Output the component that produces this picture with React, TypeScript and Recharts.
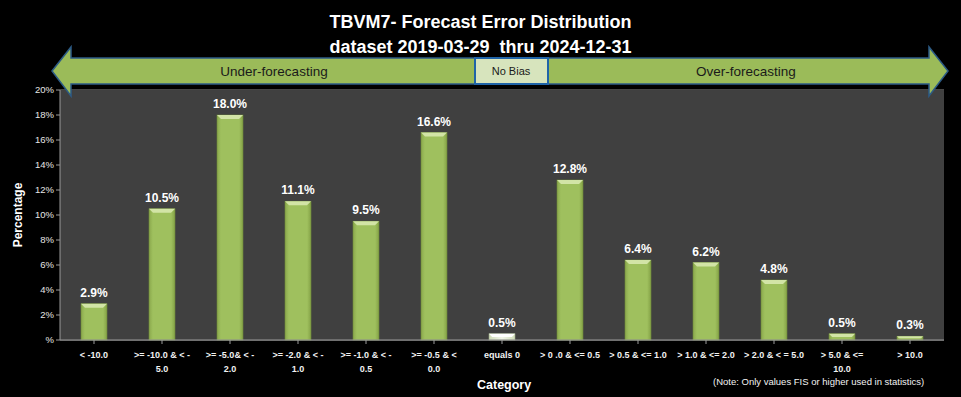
import React from "react";
import { BarChart, Bar, XAxis, YAxis, CartesianGrid, Cell, LabelList } from "recharts";

const categories = [
  "< -10.0",
  ">= -10.0 & < -\n5.0",
  ">= -5.0& < -\n2.0",
  ">= -2.0 & < -\n1.0",
  ">= -1.0 & < -\n0.5",
  ">= -0.5 & <\n0.0",
  "equals 0",
  "> 0 .0 & <= 0.5",
  "> 0.5 & <= 1.0",
  "> 1.0 & <= 2.0",
  "> 2.0 & < = 5.0",
  "> 5.0 & <=\n10.0",
  "> 10.0",
];
const percentages = [2.9, 10.5, 18.0, 11.1, 9.5, 16.6, 0.5, 12.8, 6.4, 6.2, 4.8, 0.5, 0.3];
const yTicks = [0, 2, 4, 6, 8, 10, 12, 14, 16, 18, 20];
const noBiasCategory = "equals 0";

const data = categories.map((c, i) => ({ category: c, value: percentages[i] }));

const FONT = "'Liberation Sans', Arial, sans-serif";

function CategoryTick({ x, y, payload }: any) {
  const lines = String(payload.value).split("\n");
  return (
    <text x={x} y={y + 12} textAnchor="middle" fill="#f2f2f2" fontSize={9} fontWeight="bold" fontFamily={FONT}>
      {lines.map((l, i) => (
        <tspan key={i} x={x} dy={i === 0 ? 0 : 14}>{l}</tspan>
      ))}
    </text>
  );
}

function BevelBar({ x, y, width, height, payload }: any) {
  if (!height || height <= 0) return null;
  const pale = payload.category === noBiasCategory;
  const fillId = pale ? "url(#paleGrad)" : "url(#greenGrad)";
  const bevel = Math.min(4, height / 2);
  return (
    <g>
      <rect x={x} y={y} width={width} height={height} fill={fillId} stroke={pale ? "#9aa886" : "#6f8a3a"} strokeWidth={0.6} />
      <polygon
        points={`${x},${y} ${x + width},${y} ${x + width - bevel},${y + bevel} ${x + bevel},${y + bevel}`}
        fill={pale ? "#ffffff" : "#d2e4a6"}
      />
    </g>
  );
}

function Arrows() {
  const mid = 71;
  return (
    <svg width={961} height={397} style={{ position: "absolute", left: 0, top: 0, pointerEvents: "none" }}>
      <polygon
        points={`52,${mid} 71,47 71,58 929,58 929,47 948,${mid} 929,96 929,84 71,84 71,96`}
        fill="#9bbb59"
        stroke="#2c5b86"
        strokeWidth={1.5}
        strokeLinejoin="miter"
      />
      <rect x={475} y={58} width={73} height={26} fill="#d7e4bd" stroke="#1f64a8" strokeWidth={2} />
      <text x={511} y={75} textAnchor="middle" fontSize={11} fill="#1a1a1a" fontFamily={FONT}>No  Bias</text>
      <text x={274} y={76} textAnchor="middle" fontSize={13.5} fill="#1a1a1a" fontFamily={FONT}>Under-forecasting</text>
      <text x={746} y={76} textAnchor="middle" fontSize={13.5} fill="#1a1a1a" fontFamily={FONT}>Over-forecasting</text>
    </svg>
  );
}

export default function App() {
  return (
    <div style={{ position: "relative", width: 961, height: 397, background: "#000", fontFamily: FONT }}>
      <style>{`body{margin:0;background:#000}`}</style>
      <div style={{ position: "absolute", left: 0, top: 10, width: 961, textAlign: "center", color: "#fff", fontWeight: "bold", fontSize: 18, lineHeight: "25px" }}>
        <div>TBVM7- Forecast Error Distribution</div>
        <div>dataset 2019-03-29&nbsp; thru 2024-12-31</div>
      </div>
      <div style={{ position: "absolute", left: 0, top: 0 }}>
        <BarChart width={961} height={397} data={data} margin={{ top: 90, right: 17, bottom: 27, left: 0 }}>
          <defs>
            <linearGradient id="greenGrad" x1="0" y1="0" x2="1" y2="0">
              <stop offset="0%" stopColor="#8aa84c" />
              <stop offset="15%" stopColor="#9fc05e" />
              <stop offset="85%" stopColor="#9fc05e" />
              <stop offset="100%" stopColor="#84a246" />
            </linearGradient>
            <linearGradient id="paleGrad" x1="0" y1="0" x2="1" y2="0">
              <stop offset="0%" stopColor="#cfdcb8" />
              <stop offset="50%" stopColor="#f2f6ea" />
              <stop offset="100%" stopColor="#cfdcb8" />
            </linearGradient>
          </defs>
          <rect x={60} y={90} width={884} height={250} fill="#404040" />
          <CartesianGrid vertical={false} stroke="#8c8c8c" strokeWidth={1.2} />
          <XAxis
            dataKey="category"
            interval={0}
            height={30}
            tick={<CategoryTick />}
            axisLine={{ stroke: "#9a9a9a" }}
            tickLine={{ stroke: "#9a9a9a" }}
            tickSize={4}
          />
          <YAxis
            width={60}
            domain={[0, 20]}
            ticks={yTicks}
            tickFormatter={(v: number) => (v === 0 ? "%" : `${v}%`)}
            tick={{ fill: "#e6e6e6", fontSize: 9.5, fontFamily: FONT }}
            axisLine={{ stroke: "#9a9a9a" }}
            tickLine={{ stroke: "#9a9a9a" }}
            tickSize={4}
          />
          <Bar dataKey="value" barSize={26} shape={<BevelBar />} isAnimationActive={false}>
            {data.map((d) => (
              <Cell key={d.category} />
            ))}
            <LabelList
              dataKey="value"
              position="top"
              offset={7}
              formatter={(v: any) => `${Number(v).toFixed(1)}%`}
              style={{ fill: "#fff", fontSize: 12, fontWeight: "bold", fontFamily: FONT }}
            />
          </Bar>
        </BarChart>
      </div>
      <div style={{ position: "absolute", left: 0, top: 0, width: 34, height: 397 }}>
        <svg width={34} height={397}>
          <text x={22} y={215} transform="rotate(-90 22 215)" textAnchor="middle" fill="#fff" fontSize={12} fontWeight="bold" fontFamily={FONT}>
            Percentage
          </text>
        </svg>
      </div>
      <Arrows />
      <div style={{ position: "absolute", left: 477, top: 378, color: "#fff", fontWeight: "bold", fontSize: 12.5 }}>Category</div>
      <div style={{ position: "absolute", left: 713, top: 376, color: "#f2f2f2", fontSize: 9.5 }}>
        (Note: Only values FIS or higher used in statistics)
      </div>
    </div>
  );
}
